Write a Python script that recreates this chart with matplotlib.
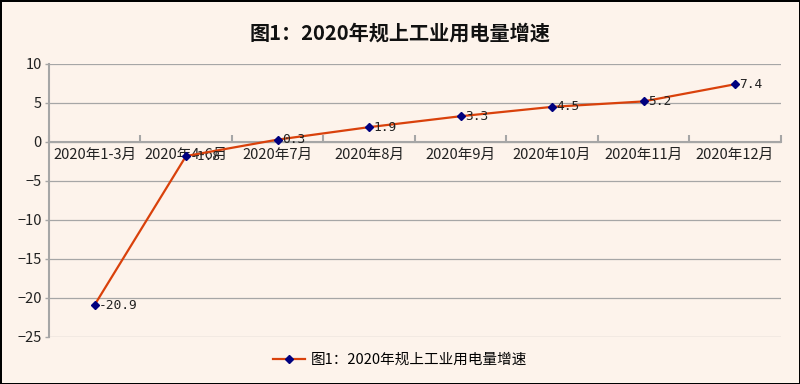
import matplotlib
matplotlib.use('Agg')
import matplotlib.pyplot as plt
import numpy as np

plt.rcParams['font.family'] = ['Noto Sans CJK SC', 'DejaVu Sans']

# 数据
categories = ['2020年1-3月', '2020年4-6月', '2020年7月', '2020年8月',
              '2020年9月', '2020年10月', '2020年11月', '2020年12月']
values = [-20.9, -1.8, 0.3, 1.9, 3.3, 4.5, 5.2, 7.4]
series_name = '图1：2020年规上工业用电量增速'
title = '图1：2020年规上工业用电量增速'

bg = '#fdf3eb'
grey = '#a6a6a6'

fig = plt.figure(figsize=(8, 3.84), dpi=100, facecolor=bg,
                 edgecolor='black', linewidth=1)
ax = fig.add_axes([0.061, 0.1224, 0.915, 0.711])
ax.set_facecolor(bg)

x = np.arange(len(categories))
ax.plot(x, values, color='#d9410b', linewidth=1.6, marker='D',
        markersize=3.8, markerfacecolor='#00007f', markeredgecolor='#00007f',
        label=series_name, zorder=3)

# 数据标签
for xi, v in zip(x, values):
    ax.annotate(f'{v}', (xi, v), xytext=(3, 0), textcoords='offset points',
                va='center', ha='left', fontsize=9.3, color='#222222',
                family='DejaVu Sans Mono', zorder=4)

ax.set_xlim(-0.5, len(categories) - 0.5)
ax.set_ylim(-25, 10)
ax.set_yticks(np.arange(-25, 11, 5))
ax.yaxis.grid(True, color=grey, linewidth=0.9)
ax.set_axisbelow(True)

for s in ['top', 'right']:
    ax.spines[s].set_visible(False)
ax.spines['left'].set_color(grey)
ax.spines['left'].set_linewidth(1.5)
ax.spines['bottom'].set_position(('data', 0))
ax.spines['bottom'].set_color(grey)
ax.spines['bottom'].set_linewidth(1.5)

# 类别边界刻度 + 类别标签
ax.set_xticks(np.arange(-0.5, len(categories), 1))
ax.set_xticklabels([])
ax.set_xticks(x, minor=True)
ax.set_xticklabels(categories, minor=True, fontsize=10.5, color='#222222')
ax.tick_params(axis='x', which='major', direction='in', length=5,
               color=grey, width=1.5)
ax.tick_params(axis='x', which='minor', length=0, pad=4.5)
ax.tick_params(axis='y', length=3, color=grey, width=1, labelsize=10.5,
               labelcolor='#222222', pad=2)

fig.suptitle(title, y=0.94, fontsize=14.5, fontweight='bold', color='#111111')

fig.legend(loc='center', bbox_to_anchor=(0.5, 0.062), frameon=False,
           fontsize=10.5, handlelength=2.2, handletextpad=0.4)

fig.savefig('out.png', dpi=100, facecolor=bg, edgecolor='black')
